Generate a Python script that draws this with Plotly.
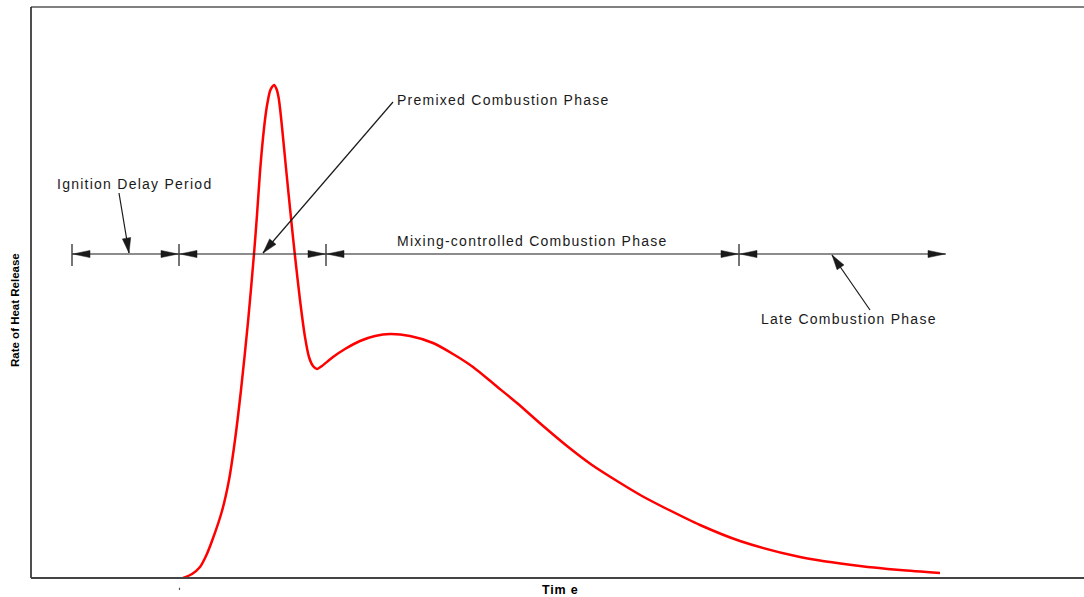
import plotly.graph_objects as go

# ---- data (time in arbitrary units, heat release rate in arbitrary units) ----
time = [152, 161, 169, 175, 181, 191, 198, 204, 210, 217, 223, 226, 229, 232, 235, 237,
        239, 241, 243, 245.5, 247.5, 249, 251, 255, 260, 264, 269, 274, 278, 282, 286,
        291, 302, 314, 329, 344, 359, 379, 402, 422, 442, 464, 486, 511, 536, 561, 586,
        611, 636, 669, 709, 769, 829, 869, 909]
rate = [0, 4, 11, 22, 37, 67, 98, 138, 188, 256, 324, 363, 406, 440, 466, 478,
        487, 491, 493, 489, 481, 470, 451, 410, 360, 322, 278, 241, 221, 212, 209,
        212, 221, 229, 237, 242, 244, 242, 235, 224, 211, 193, 175, 153, 132, 113, 97,
        82, 69, 53, 37, 21, 12, 8, 5]

phase_bounds = [41, 148, 295, 708, 915]   # time marks of phase boundaries
dim_level = 324                            # level of dimension line

labels = ["Ignition Delay Period", "Premixed Combustion Phase",
          "Mixing-controlled Combustion Phase", "Late Combustion Phase"]
label_pos = [(24, 394), (364, 478), (364, 337), (728, 259)]
leaders = [((88, 385), (98, 325)), ((362, 476), (232, 325)), ((839, 268), (801, 323))]

W, H = 1084, 597
ML, MR, MT, MB = 31, 0, 7, 19
XR = [0, 1053]
YR = [0, H - MT - MB]

INK = "#1a1a1a"
FONT = "Liberation Sans, Arial, sans-serif"


def head(tip, tail, L=17, hw=3.6):
    tx, ty = tip
    dx, dy = tip[0] - tail[0], tip[1] - tail[1]
    n = (dx * dx + dy * dy) ** 0.5
    ux, uy = dx / n, dy / n
    bx, by = tx - ux * L, ty - uy * L
    px, py = -uy * hw, ux * hw
    return dict(type="path", xref="x", yref="y",
                path=f"M{tx},{ty} L{bx+px},{by+py} L{bx-px},{by-py} Z",
                fillcolor=INK, line=dict(color=INK, width=0.5))


fig = go.Figure()
fig.add_trace(go.Scatter(x=time, y=rate, mode="lines",
                         line=dict(color="#ff0000", width=2.5, shape="spline", smoothing=0.8),
                         hoverinfo="skip", showlegend=False))

shapes = []
# frame
shapes.append(dict(type="line", xref="paper", yref="paper", x0=0, x1=1, y0=1, y1=1,
                   line=dict(color="#808080", width=2.2)))
shapes.append(dict(type="line", xref="paper", yref="paper", x0=0, x1=0, y0=0, y1=1,
                   line=dict(color="#222222", width=1.6)))
shapes.append(dict(type="line", xref="paper", yref="paper", x0=0, x1=1, y0=0, y1=0,
                   line=dict(color="#444444", width=1.8)))
# small tick below axis
shapes.append(dict(type="line", xref="x", yref="paper", x0=148.5, x1=148.5,
                   y0=-0.017, y1=-0.021, line=dict(color="#555555", width=1.2)))

# dimension line
for i in range(len(phase_bounds) - 1):
    a, b = phase_bounds[i], phase_bounds[i + 1]
    shapes.append(dict(type="line", xref="x", yref="y", x0=a, x1=b, y0=dim_level, y1=dim_level,
                       line=dict(color=INK, width=1.2)))
    shapes.append(head((a + 1, dim_level), (b, dim_level)))
    shapes.append(head((b - 1, dim_level), (a, dim_level)))
for xb in phase_bounds[:-1]:
    shapes.append(dict(type="line", xref="x", yref="y", x0=xb, x1=xb,
                       y0=dim_level - 12, y1=dim_level + 10, line=dict(color=INK, width=1.2)))

# leader arrows
for tail, tip in leaders:
    shapes.append(dict(type="line", xref="x", yref="y", x0=tail[0], y0=tail[1],
                       x1=tip[0], y1=tip[1], line=dict(color=INK, width=1.2)))
    shapes.append(head(tip, tail, L=15, hw=4.2))

annotations = []
for txt, (x, y) in zip(labels, label_pos):
    annotations.append(dict(x=x, y=y, xref="x", yref="y", xanchor="left", yanchor="middle",
                            text=f'<span style="letter-spacing:1.25px">{txt}</span>',
                            showarrow=False,
                            font=dict(family=FONT, size=14, color=INK)))

annotations.append(dict(x=(15 - 31) / XR[1], y=(578 - 310) / YR[1], xref="paper", yref="paper",
                        text="<b>Rate of Heat Release</b>", textangle=-90, showarrow=False,
                        xanchor="center", yanchor="middle",
                        font=dict(family=FONT, size=11.5, color="#000")))
annotations.append(dict(x=(560 - 31) / XR[1], y=(578 - 590) / YR[1], xref="paper", yref="paper",
                        text='<span style="letter-spacing:0.8px"><b>Tim e</b></span>',
                        showarrow=False, xanchor="center", yanchor="middle",
                        font=dict(family=FONT, size=12.5, color="#000")))

fig.update_layout(
    width=W, height=H,
    margin=dict(l=ML, r=MR, t=MT, b=MB, pad=0),
    paper_bgcolor="white", plot_bgcolor="white",
    xaxis=dict(range=XR, visible=False, fixedrange=True),
    yaxis=dict(range=YR, visible=False, fixedrange=True),
    shapes=shapes, annotations=annotations,
    showlegend=False,
)

fig.write_html("out.html", config={"displayModeBar": False},
               post_script="document.body.style.margin='0';document.body.style.overflow='hidden';")
